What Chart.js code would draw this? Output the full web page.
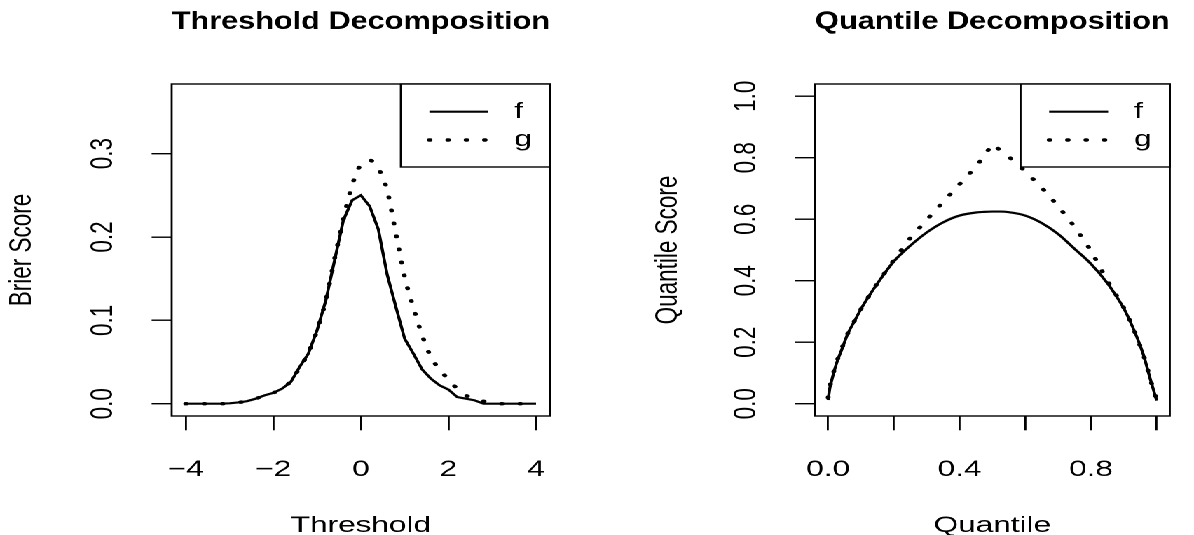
<!DOCTYPE html>
<html>
<head>
<meta charset="utf-8">
<script src="https://cdn.jsdelivr.net/npm/chart.js@4.4.1/dist/chart.umd.min.js"></script>
<style>
    html, body { margin: 0; padding: 0; background: #fff; overflow: hidden; }
    /* the reference is an R plot stretched sideways, so draw narrow and stretch */
    #pagina { width: 852px; height: 535px; display: flex; transform: scaleX(1.401408); transform-origin: 0 0; }
    canvas { display: block; }
</style>
</head>
<body>
<div id="pagina">
    <canvas id="grafico-limiar" width="426" height="535"></canvas>
    <canvas id="grafico-quantil" width="426" height="535"></canvas>
</div>
<script>
const FONTE = '"Liberation Sans", Arial, Helvetica, sans-serif';

// Threshold decomposition (Brier score)
const thresholds = [
    -4, -3.8, -3.6, -3.4, -3.2, -3, -2.8, -2.6, -2.4, -2.2, -2, -1.8, -1.6, -1.4,
    -1.2, -1, -0.8, -0.6, -0.4, -0.2, 0, 0.2, 0.4, 0.6, 0.8, 1, 1.2, 1.4, 1.6,
    1.8, 2, 2.2, 2.4, 2.6, 2.8, 3, 3.2, 3.4, 3.6, 3.8, 4,
];
const brierF = [
    0, 0, 0, 0, 0, 0.0005, 0.0015, 0.003, 0.006, 0.010, 0.013, 0.018, 0.026, 0.044,
    0.060, 0.088, 0.124, 0.172, 0.220, 0.244, 0.250, 0.237, 0.209, 0.155, 0.116, 0.078, 0.060, 0.041, 0.030,
    0.022, 0.017, 0.008, 0.006, 0.004, 0, 0, 0, 0, 0, 0, 0,
];
const brierG = [
    0, 0, 0, 0, 0, 0.0005, 0.0015, 0.003, 0.006, 0.010, 0.013, 0.018, 0.027, 0.043,
    0.061, 0.088, 0.124, 0.174, 0.221, 0.262, 0.287, 0.292, 0.282, 0.256, 0.204, 0.152, 0.115, 0.082, 0.056,
    0.041, 0.029, 0.018, 0.010, 0.006, 0.003, 0.001, 0, 0, 0, 0, 0,
];
const thresholdTicks = [-4, -2, 0, 2, 4];
const thresholdLabels = ['\u22124', '\u22122', '0', '2', '4'];
const brierTicks = [0, 0.1, 0.2, 0.3];
const brierLabels = ['0.0', '0.1', '0.2', '0.3'];

// Quantile decomposition (quantile score)
const quantiles = [
    0, 0.005, 0.01, 0.02, 0.03, 0.04, 0.06, 0.08, 0.1, 0.12, 0.15, 0.2, 0.25, 0.3, 0.35, 0.4,
    0.45, 0.475, 0.5, 0.525, 0.55, 0.6, 0.65, 0.7, 0.75, 0.8, 0.85, 0.88, 0.9, 0.92, 0.94,
    0.96, 0.97, 0.98, 0.99, 1,
];
const quantileF = [
    0.012, 0.050, 0.072, 0.112, 0.145, 0.172, 0.228, 0.268, 0.308, 0.343, 0.391, 0.463, 0.514, 0.557, 0.590, 0.612,
    0.622, 0.624, 0.625, 0.625, 0.623, 0.612, 0.588, 0.552, 0.504, 0.455, 0.392, 0.345, 0.310, 0.266, 0.216,
    0.158, 0.121, 0.082, 0.046, 0.010,
];
const quantileG = [
    0.020, 0.055, 0.076, 0.115, 0.148, 0.176, 0.229, 0.269, 0.308, 0.343, 0.392, 0.467, 0.539, 0.598, 0.656, 0.714,
    0.771, 0.806, 0.845, 0.823, 0.803, 0.756, 0.703, 0.643, 0.576, 0.498, 0.400, 0.348, 0.312, 0.267, 0.216,
    0.158, 0.122, 0.082, 0.046, 0.015,
];
const quantileXTicks = [0, 0.2, 0.4, 0.6, 0.8, 1];
const quantileXLabels = ['0.0', '', '0.4', '', '0.8', ''];
const quantileYTicks = [0, 0.2, 0.4, 0.6, 0.8, 1];
const quantileYLabels = ['0.0', '0.2', '0.4', '0.6', '0.8', '1.0'];

function pontos(xs, ys) {
    return xs.map((x, i) => ({ x, y: ys[i] }));
}

// box round the plot region and an R style legend in its top right corner
const caixaR = {
    id: 'caixaR',
    afterDraw(chart) {
        const { ctx, chartArea: area } = chart;
        ctx.save();
        ctx.strokeStyle = '#000';
        ctx.lineWidth = 1.4;
        ctx.strokeRect(area.left, area.top, area.right - area.left, area.bottom - area.top);

        const largura = 106.5;
        const altura = 83;
        const esquerda = area.right - largura;
        ctx.fillStyle = '#fff';
        ctx.fillRect(esquerda, area.top, largura, altura);
        ctx.strokeRect(esquerda, area.top, largura, altura);

        chart.data.datasets.forEach((ds, i) => {
            const y = area.top + 27.7 + i * 28.3;
            ctx.beginPath();
            ctx.setLineDash(ds.borderDash || []);
            ctx.lineCap = ds.borderCapStyle || 'butt';
            ctx.lineWidth = ds.borderWidth;
            ctx.strokeStyle = '#000';
            ctx.moveTo(esquerda + 20.4, y);
            ctx.lineTo(esquerda + 62.5, y);
            ctx.stroke();
            ctx.setLineDash([]);
            ctx.fillStyle = '#000';
            ctx.font = `22.5px ${FONTE}`;
            ctx.textAlign = 'left';
            ctx.textBaseline = 'middle';
            ctx.fillText(ds.label, esquerda + 81, y);
        });
        ctx.restore();
    },
};

function eixoX(min, max, valores, rotulos, titulo) {
    return {
        type: 'linear',
        min,
        max,
        bounds: 'data',
        afterBuildTicks: (eixo) => { eixo.ticks = valores.map((v) => ({ value: v })); },
        afterFit: (eixo) => { eixo.height = 119; },
        grid: { drawOnChartArea: false, tickLength: 14.3, lineWidth: 1.4, color: '#000' },
        border: { display: false },
        ticks: {
            autoSkip: false,
            maxRotation: 0,
            padding: 26,
            color: '#000',
            font: { family: FONTE, size: 22.5 },
            callback: (valor) => rotulos[valores.indexOf(valor)],
        },
        title: {
            display: true,
            text: titulo,
            color: '#000',
            font: { family: FONTE, size: 22.5, lineHeight: 0.8 },
            padding: 0,
        },
    };
}

function eixoY(min, max, valores, rotulos, titulo, largura, recuoTitulo) {
    return {
        type: 'linear',
        min,
        max,
        bounds: 'data',
        afterBuildTicks: (eixo) => { eixo.ticks = valores.map((v) => ({ value: v })); },
        afterFit: (eixo) => { eixo.width = largura; },
        grid: { drawOnChartArea: false, tickLength: 14.3, lineWidth: 1.4, color: '#000' },
        border: { display: false },
        ticks: {
            autoSkip: false,
            minRotation: 90,
            maxRotation: 90,
            crossAlign: 'center',
            padding: 19,
            color: '#000',
            font: { family: FONTE, size: 22.5 },
            callback: (valor) => rotulos[valores.indexOf(valor)],
        },
        title: {
            display: true,
            text: titulo,
            color: '#000',
            font: { family: FONTE, size: 22.5, lineHeight: 1.2 },
            padding: { top: recuoTitulo, bottom: 0 },
        },
    };
}

function linhaCheia(rotulo, dados, suave) {
    return {
        label: rotulo,
        data: dados,
        borderColor: '#000',
        borderWidth: 2.2,
        pointRadius: 0,
        cubicInterpolationMode: suave ? 'monotone' : 'default',
        tension: 0,
        fill: false,
    };
}

function linhaPontilhada(rotulo, dados, suave) {
    return {
        label: rotulo,
        data: dados,
        borderColor: '#000',
        borderWidth: 3.4,
        borderDash: [0.5, 12.6],
        borderCapStyle: 'round',
        pointRadius: 0,
        cubicInterpolationMode: suave ? 'monotone' : 'default',
        tension: 0,
        fill: false,
    };
}

function tituloGrafico(texto) {
    return {
        display: true,
        text: texto,
        fullSize: false,
        color: '#000',
        font: { family: FONTE, size: 25, weight: 'bold', lineHeight: 1.2 },
        padding: { top: 7, bottom: 84 - 7 - 25 * 1.2 },
    };
}

new Chart(document.getElementById('grafico-limiar'), {
    type: 'line',
    data: {
        datasets: [
            linhaCheia('f', pontos(thresholds, brierF), false),
            linhaPontilhada('g', pontos(thresholds, brierG), true),
        ],
    },
    options: {
        responsive: false,
        devicePixelRatio: 2,
        animation: false,
        layout: { padding: { left: 0, right: 33.5, top: 0, bottom: 0 } },
        plugins: {
            legend: { display: false },
            tooltip: { enabled: false },
            title: tituloGrafico('Threshold Decomposition'),
        },
        scales: {
            x: eixoX(-4.32, 4.32, thresholdTicks, thresholdLabels, 'Threshold'),
            y: eixoY(-0.01475, 0.3835, brierTicks, brierLabels, 'Brier Score', 122.5, 2.5),
        },
    },
    plugins: [caixaR],
});

new Chart(document.getElementById('grafico-quantil'), {
    type: 'line',
    data: {
        datasets: [
            linhaCheia('f', pontos(quantiles, quantileF), true),
            linhaPontilhada('g', pontos(quantiles, quantileG), false),
        ],
    },
    options: {
        responsive: false,
        devicePixelRatio: 2,
        animation: false,
        layout: { padding: { left: 0, right: 1.1, top: 0, bottom: 0 } },
        plugins: {
            legend: { display: false },
            tooltip: { enabled: false },
            title: tituloGrafico('Quantile Decomposition'),
        },
        scales: {
            x: eixoX(-0.04, 1.04, quantileXTicks, quantileXLabels, 'Quantile'),
            y: eixoY(-0.04, 1.04, quantileYTicks, quantileYLabels, 'Quantile Score', 155.55, 37.5),
        },
    },
    plugins: [caixaR],
});
</script>
</body>
</html>
